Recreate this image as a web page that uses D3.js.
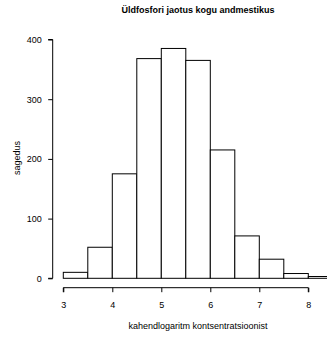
<!DOCTYPE html>
<html>
<head>
<meta charset="utf-8">
<script src="https://cdn.jsdelivr.net/npm/d3@7"></script>
<style>
  body { margin: 0; background: #fff; }
  svg { display: block; font-family: "Liberation Sans", Arial, sans-serif; }
</style>
</head>
<body>
<svg id="chart" width="327" height="337"></svg>
<script>
// histogram bins (left edges, width 0.5) and counts
const binStarts = [3, 3.5, 4, 4.5, 5, 5.5, 6, 6.5, 7, 7.5, 8]
const counts = [10, 52, 175, 368, 385, 365, 215, 71, 32, 8, 3]
const binWidth = 0.5
const xTicks = [3, 4, 5, 6, 7, 8]
const yTicks = [0, 100, 200, 300, 400]

const title = 'Üldfosfori jaotus kogu andmestikus'
const xLabel = 'kahendlogaritm kontsentratsioonist'
const yLabel = 'sagedus'

const svg = d3.select('#chart')
const fontSize = 9

// pixel mapping
const x = d3.scaleLinear().domain([3, 8]).range([63.3, 308.3])
const y = d3.scaleLinear().domain([0, 400]).range([278.3, 39.5])

svg.selectAll('rect.bar')
    .data(binStarts)
    .enter()
    .append('rect')
    .attr('class', 'bar')
    .attr('x', (d) => x(d))
    .attr('y', (d, i) => y(counts[i]))
    .attr('width', (d) => x(d + binWidth) - x(d))
    .attr('height', (d, i) => y(0) - y(counts[i]))
    .attr('fill', 'white')
    .attr('stroke', 'black')
    .attr('stroke-width', 1)

// x axis, offset below the bars like R does
const xAxis = svg.append('g')
    .attr('transform', 'translate(0,287.7)')
    .call(d3.axisBottom(x).tickValues(xTicks).tickSize(4.5).tickPadding(9.4).tickFormat(d3.format('d')))
xAxis.select('.domain').attr('d', `M${x(3)},4.5V0H${x(8)}V4.5`)

const yAxis = svg.append('g')
    .attr('transform', 'translate(52.7,0)')
    .call(d3.axisLeft(y).tickValues(yTicks).tickSize(4.5).tickPadding(6.5).tickFormat(d3.format('d')))
yAxis.select('.domain').attr('d', `M-4.5,${y(0)}H0V${y(400)}H-4.5`)

svg.selectAll('.tick text').attr('font-size', fontSize).attr('font-family', '"Liberation Sans", Arial, sans-serif').attr('fill', '#000')
svg.selectAll('.tick line, .domain').attr('stroke', '#000')

svg.append('text')
    .attr('x', 198)
    .attr('y', 13)
    .attr('text-anchor', 'middle')
    .attr('font-size', fontSize)
    .attr('font-weight', 'bold')
    .text(title)

svg.append('text')
    .attr('x', 198)
    .attr('y', 328.5)
    .attr('text-anchor', 'middle')
    .attr('font-size', fontSize)
    .text(xLabel)

svg.append('text')
    .attr('transform', 'translate(20,158) rotate(-90)')
    .attr('text-anchor', 'middle')
    .attr('font-size', fontSize)
    .text(yLabel)
</script>
</body>
</html>
